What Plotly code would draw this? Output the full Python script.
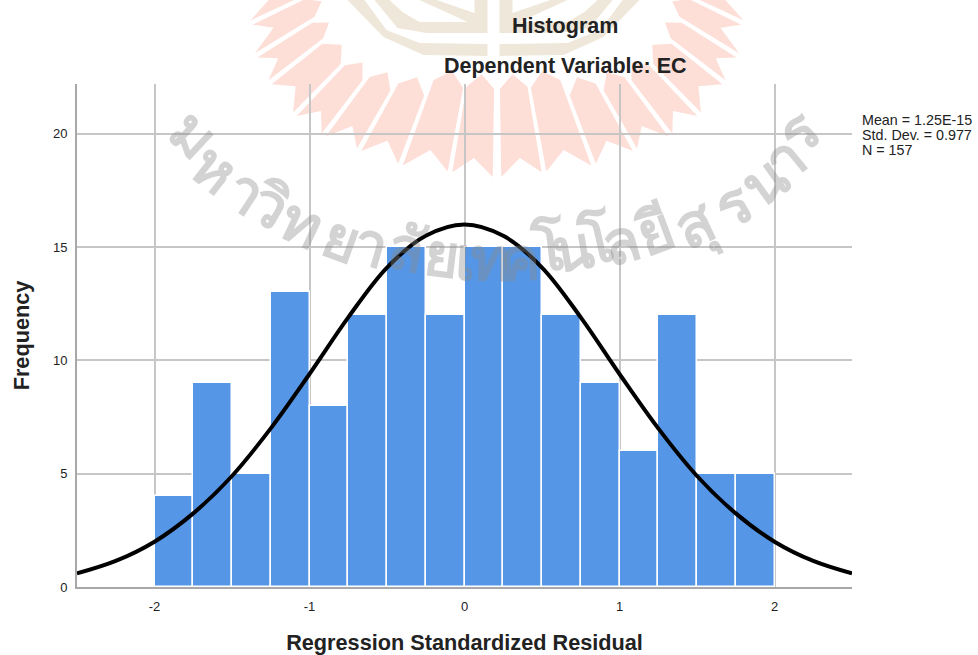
import math
import plotly.graph_objects as go

bin_left = [-2, -1.75, -1.5, -1.25, -1, -0.75, -0.5, -0.25, 0, 0.25, 0.5, 0.75, 1, 1.25, 1.5, 1.75]
frequency = [4, 9, 5, 13, 8, 12, 15, 12, 15, 15, 12, 9, 6, 12, 5, 5]
bin_width = 0.25
curve_x = [-2.5, -2.25, -2, -1.75, -1.5, -1.25, -1, -0.75, -0.5, -0.25, 0, 0.25, 0.5, 0.75, 1, 1.25, 1.5, 1.75, 2, 2.25, 2.5]
curve_y = [0.6, 1.15, 2.0, 3.25, 4.9, 7.0, 9.4, 11.9, 14.1, 15.5, 16.0, 15.5, 14.1, 11.9, 9.4, 7.0, 4.9, 3.25, 2.0, 1.15, 0.6]
x_ticks = [-2, -1, 0, 1, 2]
x_tick_labels = ["-2", "-1", "0", "1", "2"]
y_ticks = [0, 5, 10, 15, 20]
stats_lines = ["Mean = 1.25E-15", "Std. Dev. = 0.977", "N = 157"]
title_lines = ["Histogram", "Dependent Variable: EC"]
watermark = ["ม", "ห", "า", "วิ", "ท", "ย", "า", "ลั", "ย", "เ", "ท", "ค", "โ", "น", "โ", "ล", "ยี", "สุ", "ร", "น", "า", "ร"]
wm_x = [195, 216, 247, 270, 303, 342, 372, 407, 442, 466, 490, 520, 548, 572, 596, 620, 654, 693, 732, 763, 784, 797]
wm_y = [133, 167, 190, 203, 222, 237, 243, 247, 253, 257, 257, 257, 247, 247, 240, 240, 230, 223, 203, 180, 157, 130]

W, H = 978, 655
L, R, T, B = 77, 852, 84, 587
def px(x): return (x - L) / (R - L)
def py(y): return (B - y) / (B - T)
def poly(pts): return "M " + " L ".join(f"{px(a):.4f},{py(b):.4f}" for a, b in pts) + " Z"

shapes = []
# pink petals of the background seal: edge angles, tip radii and inner radii, from the centre outwards
cx, cy = 497, -95
petal_edges = [0.4, 10, 20.4, 29.4, 37, 44, 52, 58, 64.4, 71, 78]
petal_tips = [272, 271, 277, 281, 288, 291, 288, 284, 272, 262, 255]
petal_inner = [170, 172, 190, 200, 207, 209, 205, 200, 195, 190]
def pt(r, a, s):
    t = math.radians(a)
    return cx + s * r * math.sin(t), cy + r * math.cos(t)
for s in (-1, 1):
    for i, rin in enumerate(petal_inner):
        a0, a1 = petal_edges[i] + 0.5, petal_edges[i + 1] - 0.5
        m = (a0 + a1) / 2
        r0, r1 = petal_tips[i], petal_tips[i + 1]
        pts = [pt(rin, m, s), pt(rin + 14, a0, s), pt(r0, a0, s), pt(min(r0, r1) - 17, m, s), pt(r1, a1, s), pt(rin + 14, a1, s)]
        shapes.append(dict(type="path", xref="paper", yref="paper", path=poly(pts), fillcolor="#fddfd8", line_width=0, layer="below"))
# tan leaf bands of the seal (offsets from its centre line)
tan = "#efe8da"
mid = 493.5
bands = [
    [(146, 0), (110, 37), (70, 55), (6, 56), (6, 44), (74, 43), (107, 30), (129, 0)],
    [(119, 0), (96, 28), (67, 33), (6, 33), (6, 22), (74, 22), (91, 12), (104, 0)],
    [(74, 0), (26, 22), (6, 22), (6, 0), (19, 0), (19, 13), (57, 0)],
]
for s in (-1, 1):
    for b in bands:
        shapes.append(dict(type="path", xref="paper", yref="paper", path=poly([(mid + s * a, v) for a, v in b]),
                           fillcolor=tan, line_width=0, layer="below"))

fig = go.Figure()
fig.add_bar(x=[b + bin_width / 2 for b in bin_left], y=frequency, width=bin_width,
            marker=dict(color="#5596e6", line=dict(color="#ffffff", width=1.5)), showlegend=False)
fig.add_scatter(x=curve_x, y=curve_y, mode="lines", line=dict(color="#000000", width=4, shape="spline"), showlegend=False)

ann = []
wm_cx, wm_cy = 497, -192
for ch, x, y in zip(watermark, wm_x, wm_y):
    a = math.degrees(math.atan2(wm_cx - x, y - wm_cy))
    ann.append(dict(xref="paper", yref="paper", x=px(x), y=py(y), text=f"<b>{ch}</b>", showarrow=False, textangle=a,
                    xanchor="center", yanchor="middle",
                    font=dict(family="Noto Sans, DejaVu Sans, sans-serif", size=60, color="rgba(140,140,140,0.38)")))
for txt, yy in [(title_lines[0], 26), (title_lines[1], 66)]:
    ann.append(dict(xref="paper", yref="paper", x=px(565), y=py(yy), text=f"<b>{txt}</b>", showarrow=False,
                    xanchor="center", yanchor="middle", font=dict(family="Liberation Sans", size=21.5, color="#222222")))
for line, yy in zip(stats_lines, [120, 135, 150]):
    ann.append(dict(xref="paper", yref="paper", x=px(862), y=py(yy), text=line, showarrow=False, xshift=-2,
                    xanchor="left", yanchor="middle", font=dict(family="Liberation Sans", size=14.3, color="#222222")))

axis_font = dict(family="Liberation Sans", size=13, color="#222222")
title_font = dict(family="Liberation Sans", size=21.7, color="#222222")
fig.update_layout(
    width=W, height=H, autosize=False, paper_bgcolor="white", plot_bgcolor="rgba(0,0,0,0)",
    margin=dict(l=L, r=W - R, t=T, b=H - B), bargap=0, shapes=shapes, annotations=ann,
    xaxis=dict(range=[-2.5, 2.5], tickvals=x_ticks, ticktext=x_tick_labels, ticks="outside", ticklen=6,
               tickcolor="rgba(0,0,0,0)", showgrid=True, gridcolor="#c6c6c6", gridwidth=1.5, showline=True,
               linecolor="#a8a8a8", linewidth=2, zeroline=False, tickfont=axis_font, automargin=False,
               title=dict(text="<b>Regression Standardized Residual</b>", standoff=25, font=title_font)),
    yaxis=dict(range=[0, 22.2], tickvals=y_ticks, ticks="outside", ticklen=5,
               tickcolor="rgba(0,0,0,0)", showgrid=True, gridcolor="#c6c6c6", gridwidth=1.5, showline=True,
               linecolor="#a8a8a8", linewidth=2, zeroline=False, tickfont=axis_font, automargin=False,
               title=dict(text="<b>Frequency</b>", standoff=17, font=title_font)),
)
fig.write_html("out.html", config={"displayModeBar": False}, post_script="document.body.style.margin='0';")
